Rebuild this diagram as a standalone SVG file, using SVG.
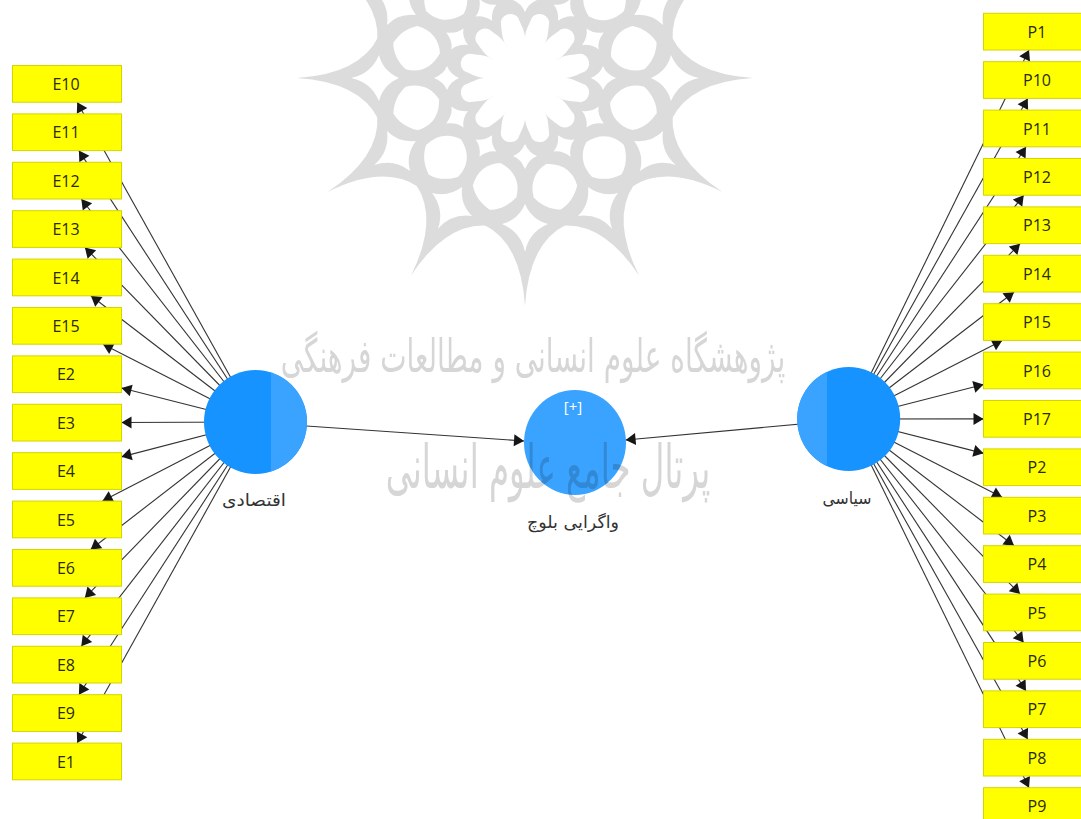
<svg xmlns="http://www.w3.org/2000/svg" xmlns:xlink="http://www.w3.org/1999/xlink" width="1081" height="819" viewBox="0 0 1081 819">
<style>
.box{fill:#ffff00;stroke:#d4d400;stroke-width:1}
.lbl{font-family:"Open Sans","Noto Sans",sans-serif;font-size:16px;fill:#2a2a10;text-anchor:middle}
.name{font-family:"DejaVu Sans",sans-serif;font-size:17px;fill:#333;text-anchor:middle}
.c{stroke:#333;stroke-width:1.1;fill:none;marker-end:url(#ah)}
.dark{fill:#1793ff}
.light{fill:#3aa3ff}
.wm{fill:#dcdcdc}
.wmt{font-family:"DejaVu Sans",sans-serif;fill:#d6d6d6;text-anchor:middle}
</style>
<defs>
<marker id="ah" markerUnits="userSpaceOnUse" markerWidth="14" markerHeight="14" refX="11" refY="7" orient="auto"><path d="M1,1 L11,7 L1,13 Z" fill="#161616"/></marker>
<path id="spike" class="wm" d="M146.8,-41 Q165,-4 228,0 Q165,4 146.8,41 L120,41 L120,-41 Z"/>
<g id="holes" fill="#fff">
<path d="M174,0 Q154,-4 146,-23 Q142,-7 126,0 Q142,7 146,23 Q154,4 174,0 Z"/>
<path d="M66,0 Q75,-4 78,-12 Q81,-4 91,0 Q81,4 78,12 Q75,4 66,0 Z"/>
<path transform="rotate(15) translate(112,0) scale(.9) translate(-112,0)" d="M86,2 C90,-16 102,-25 118,-25 C128,-20 137,-10 139,0 C135,12 128,20 118,25 C102,25 90,16 86,2 Z"/>
<path transform="rotate(15)" d="M0,0 L38.6,-10.4 C46,-12 52,-10 60,-9 C68,-6 68,6 60,9 C52,10 46,12 38.6,10.4 Z"/>
</g>
</defs>
<rect width="1081" height="819" fill="#fff"/>
<g id="connectors">
<path class="c" d="M255.5,422 L77.2,102.2"/>
<path class="c" d="M255.5,422 L78.9,150.6"/>
<path class="c" d="M255.5,422 L81.3,199"/>
<path class="c" d="M255.5,422 L84.9,247.4"/>
<path class="c" d="M255.5,422 L90.9,295.8"/>
<path class="c" d="M255.5,422 L103,344.2"/>
<path class="c" d="M255.5,422 L121.5,388.05"/>
<path class="c" d="M255.5,422 L121.5,422.46"/>
<path class="c" d="M255.5,422 L121.5,456.87"/>
<path class="c" d="M255.5,422 L102.5,501.1"/>
<path class="c" d="M255.5,422 L90.7,549.5"/>
<path class="c" d="M255.5,422 L84.8,597.9"/>
<path class="c" d="M255.5,422 L81.3,646.3"/>
<path class="c" d="M255.5,422 L78.9,694.7"/>
<path class="c" d="M255.5,422 L77.2,743.1"/>
<path class="c" d="M848.7,419 L1029,50"/>
<path class="c" d="M848.7,419 L1027.75,98.4"/>
<path class="c" d="M848.7,419 L1026,146.8"/>
<path class="c" d="M848.7,419 L1023.7,195.2"/>
<path class="c" d="M848.7,419 L1020.1,243.6"/>
<path class="c" d="M848.7,419 L1014.1,292"/>
<path class="c" d="M848.7,419 L1002.2,340.4"/>
<path class="c" d="M848.7,419 L983.5,384.43"/>
<path class="c" d="M848.7,419 L983.5,418.89"/>
<path class="c" d="M848.7,419 L983.5,453.36"/>
<path class="c" d="M848.7,419 L1002.06,497.3"/>
<path class="c" d="M848.7,419 L1014.05,545.7"/>
<path class="c" d="M848.7,419 L1020.04,594.1"/>
<path class="c" d="M848.7,419 L1023.6,642.5"/>
<path class="c" d="M848.7,419 L1026,690.9"/>
<path class="c" d="M848.7,419 L1027.7,739.3"/>
<path class="c" d="M848.7,419 L1029,787.7"/>
<path class="c" d="M255.5,422.5 L524,441"/>
<path class="c" d="M848.7,419.6 L625.6,440"/>
</g>
<g id="E10"><rect class="box" x="12.5" y="65.5" width="109" height="36.7"/><text class="lbl" x="66" y="90">E10</text></g>
<g id="E11"><rect class="box" x="12.5" y="113.9" width="109" height="36.7"/><text class="lbl" x="66" y="138.4">E11</text></g>
<g id="E12"><rect class="box" x="12.5" y="162.3" width="109" height="36.7"/><text class="lbl" x="66" y="186.8">E12</text></g>
<g id="E13"><rect class="box" x="12.5" y="210.7" width="109" height="36.7"/><text class="lbl" x="66" y="235.2">E13</text></g>
<g id="E14"><rect class="box" x="12.5" y="259.1" width="109" height="36.7"/><text class="lbl" x="66" y="283.6">E14</text></g>
<g id="E15"><rect class="box" x="12.5" y="307.5" width="109" height="36.7"/><text class="lbl" x="66" y="332">E15</text></g>
<g id="E2"><rect class="box" x="12.5" y="355.9" width="109" height="36.7"/><text class="lbl" x="66" y="380.4">E2</text></g>
<g id="E3"><rect class="box" x="12.5" y="404.3" width="109" height="36.7"/><text class="lbl" x="66" y="428.8">E3</text></g>
<g id="E4"><rect class="box" x="12.5" y="452.7" width="109" height="36.7"/><text class="lbl" x="66" y="477.2">E4</text></g>
<g id="E5"><rect class="box" x="12.5" y="501.1" width="109" height="36.7"/><text class="lbl" x="66" y="525.6">E5</text></g>
<g id="E6"><rect class="box" x="12.5" y="549.5" width="109" height="36.7"/><text class="lbl" x="66" y="574">E6</text></g>
<g id="E7"><rect class="box" x="12.5" y="597.9" width="109" height="36.7"/><text class="lbl" x="66" y="622.4">E7</text></g>
<g id="E8"><rect class="box" x="12.5" y="646.3" width="109" height="36.7"/><text class="lbl" x="66" y="670.8">E8</text></g>
<g id="E9"><rect class="box" x="12.5" y="694.7" width="109" height="36.7"/><text class="lbl" x="66" y="719.2">E9</text></g>
<g id="E1"><rect class="box" x="12.5" y="743.1" width="109" height="36.7"/><text class="lbl" x="66" y="767.6">E1</text></g>
<g id="P1"><rect class="box" x="983.5" y="13.3" width="109" height="36.7"/><text class="lbl" x="1037" y="37.8">P1</text></g>
<g id="P10"><rect class="box" x="983.5" y="61.7" width="109" height="36.7"/><text class="lbl" x="1037" y="86.2">P10</text></g>
<g id="P11"><rect class="box" x="983.5" y="110.1" width="109" height="36.7"/><text class="lbl" x="1037" y="134.6">P11</text></g>
<g id="P12"><rect class="box" x="983.5" y="158.5" width="109" height="36.7"/><text class="lbl" x="1037" y="183">P12</text></g>
<g id="P13"><rect class="box" x="983.5" y="206.9" width="109" height="36.7"/><text class="lbl" x="1037" y="231.4">P13</text></g>
<g id="P14"><rect class="box" x="983.5" y="255.3" width="109" height="36.7"/><text class="lbl" x="1037" y="279.8">P14</text></g>
<g id="P15"><rect class="box" x="983.5" y="303.7" width="109" height="36.7"/><text class="lbl" x="1037" y="328.2">P15</text></g>
<g id="P16"><rect class="box" x="983.5" y="352.1" width="109" height="36.7"/><text class="lbl" x="1037" y="376.6">P16</text></g>
<g id="P17"><rect class="box" x="983.5" y="400.5" width="109" height="36.7"/><text class="lbl" x="1037" y="425">P17</text></g>
<g id="P2"><rect class="box" x="983.5" y="448.9" width="109" height="36.7"/><text class="lbl" x="1037" y="473.4">P2</text></g>
<g id="P3"><rect class="box" x="983.5" y="497.3" width="109" height="36.7"/><text class="lbl" x="1037" y="521.8">P3</text></g>
<g id="P4"><rect class="box" x="983.5" y="545.7" width="109" height="36.7"/><text class="lbl" x="1037" y="570.2">P4</text></g>
<g id="P5"><rect class="box" x="983.5" y="594.1" width="109" height="36.7"/><text class="lbl" x="1037" y="618.6">P5</text></g>
<g id="P6"><rect class="box" x="983.5" y="642.5" width="109" height="36.7"/><text class="lbl" x="1037" y="667">P6</text></g>
<g id="P7"><rect class="box" x="983.5" y="690.9" width="109" height="36.7"/><text class="lbl" x="1037" y="715.4">P7</text></g>
<g id="P8"><rect class="box" x="983.5" y="739.3" width="109" height="36.7"/><text class="lbl" x="1037" y="763.8">P8</text></g>
<g id="P9"><rect class="box" x="983.5" y="787.7" width="109" height="36.7"/><text class="lbl" x="1037" y="812.2">P9</text></g>
<g id="eghtesadi"><ellipse class="dark" cx="255.5" cy="422" rx="51.5" ry="52"/><path class="light" d="M271,372.4 A51.5,52 0 0 1 271,471.6 Z"/><text class="name" x="254" y="506" textLength="64" lengthAdjust="spacingAndGlyphs">اقتصادی</text></g>
<g id="siasi"><ellipse class="dark" cx="848.7" cy="419" rx="51.5" ry="52"/><path class="light" d="M827,371.8 A51.5,52 0 0 0 827,466.2 Z"/><text class="name" x="847" y="504" textLength="49" lengthAdjust="spacingAndGlyphs">سیاسی</text></g>
<g id="vagarayi"><ellipse class="light" cx="575" cy="442.5" rx="51" ry="52.5"/><text x="573" y="412" font-family="Open Sans,Noto Sans,sans-serif" font-size="15" fill="#fff" text-anchor="middle">[+]</text><text class="name" x="573" y="528" textLength="92" lengthAdjust="spacingAndGlyphs">واگرایی بلوچ</text></g>
<g id="watermark" style="mix-blend-mode:multiply">
<g transform="translate(525,78)">
<circle class="wm" r="150"/>
<use href="#spike" transform="rotate(0)"/><use href="#spike" transform="rotate(30)"/><use href="#spike" transform="rotate(60)"/><use href="#spike" transform="rotate(90)"/><use href="#spike" transform="rotate(120)"/><use href="#spike" transform="rotate(150)"/><use href="#spike" transform="rotate(180)"/><use href="#spike" transform="rotate(210)"/><use href="#spike" transform="rotate(240)"/><use href="#spike" transform="rotate(270)"/><use href="#spike" transform="rotate(300)"/><use href="#spike" transform="rotate(330)"/>
<use href="#holes" transform="rotate(0)"/><use href="#holes" transform="rotate(30)"/><use href="#holes" transform="rotate(60)"/><use href="#holes" transform="rotate(90)"/><use href="#holes" transform="rotate(120)"/><use href="#holes" transform="rotate(150)"/><use href="#holes" transform="rotate(180)"/><use href="#holes" transform="rotate(210)"/><use href="#holes" transform="rotate(240)"/><use href="#holes" transform="rotate(270)"/><use href="#holes" transform="rotate(300)"/><use href="#holes" transform="rotate(330)"/>
<circle r="36" fill="#fff"/>
</g>
<text class="wmt" transform="translate(533,372) scale(.608,1)" font-size="46">پژوهشگاه علوم انسانی و مطالعات فرهنگی</text>
<text class="wmt" transform="translate(548,488) scale(.54,1)" font-size="60">پرتال جامع علوم انسانی</text>
</g>
</svg>
